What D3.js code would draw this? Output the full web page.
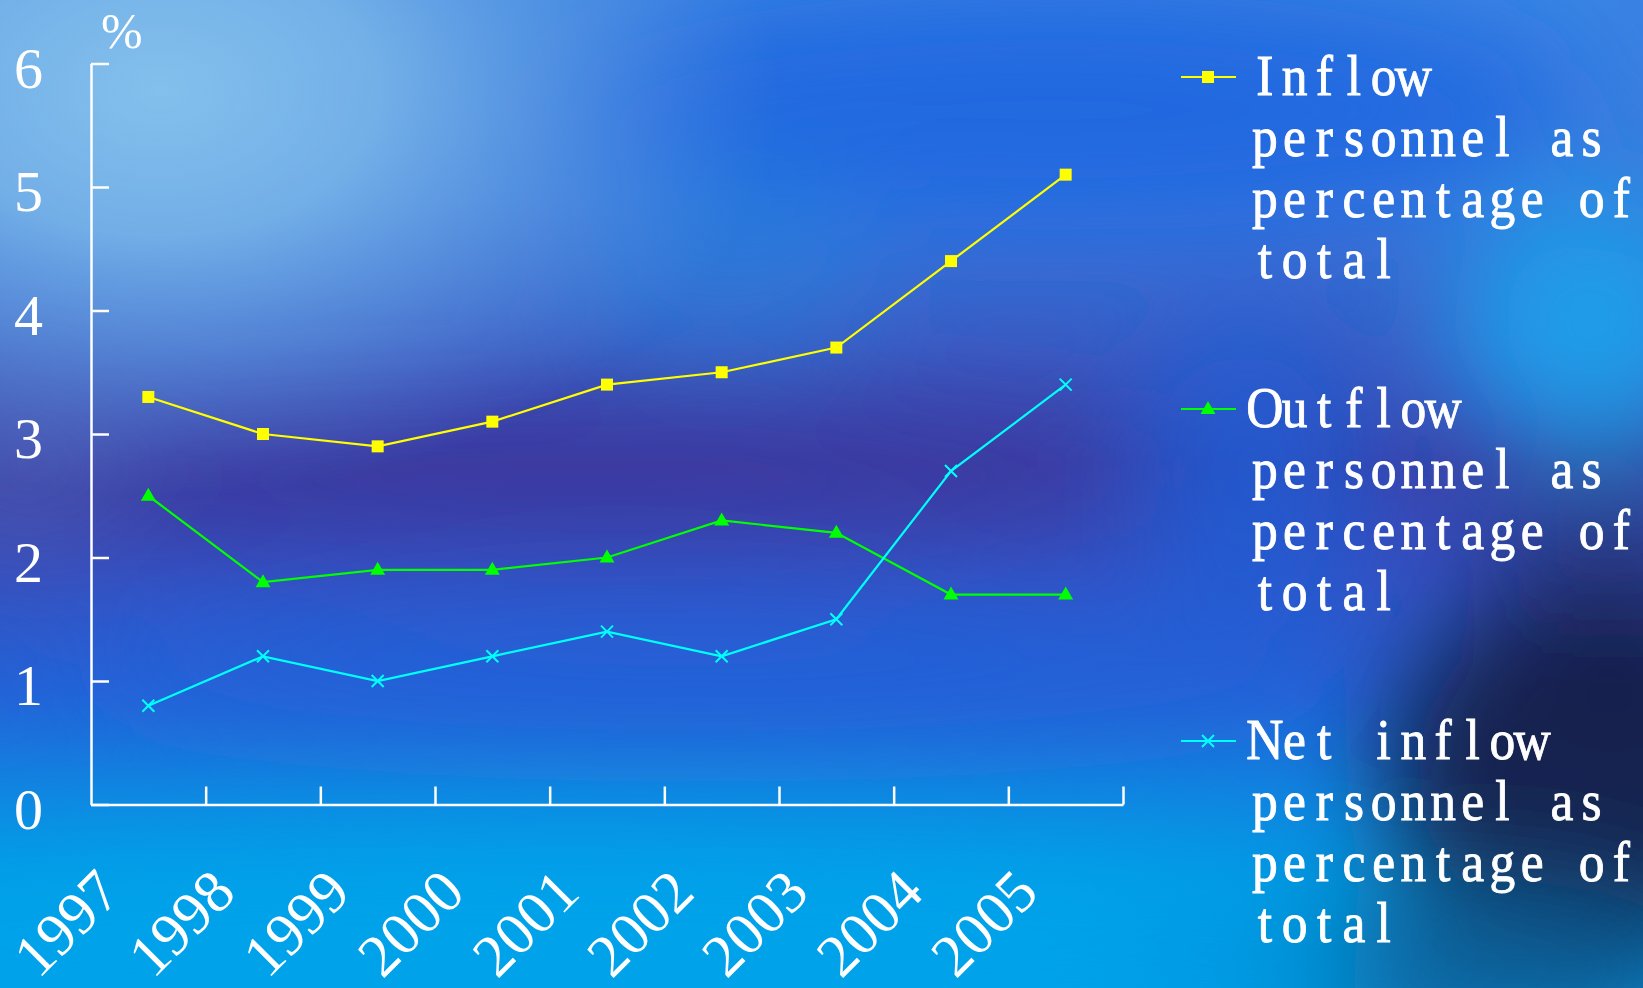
<!DOCTYPE html>
<html>
<head>
<meta charset="utf-8">
<script src="https://cdn.jsdelivr.net/npm/d3@7"></script>
<style>
  html, body { margin: 0; padding: 0; overflow: hidden; background: #2a5fd6; }
  svg { display: block; }
</style>
</head>
<body>
<svg id="chart"></svg>
<script>
var width = 1643;
var height = 988;

// data
var years = ["1997", "1998", "1999", "2000", "2001", "2002", "2003", "2004", "2005"];
var inflow = [3.3, 3.0, 2.9, 3.1, 3.4, 3.5, 3.7, 4.4, 5.1];
var outflow = [2.5, 1.8, 1.9, 1.9, 2.0, 2.3, 2.2, 1.7, 1.7];
var netInflow = [0.8, 1.2, 1.0, 1.2, 1.4, 1.2, 1.5, 2.7, 3.4];
var yTicks = [0, 1, 2, 3, 4, 5, 6];
var legendInflow = ["Inflow", "personnel as", "percentage of", "total"];
var legendOutflow = ["Outflow", "personnel as", "percentage of", "total"];
var legendNet = ["Net inflow", "personnel as", "percentage of", "total"];

var series = [
    { values: inflow, color: "#ffff00", shape: "square", legend: legendInflow },
    { values: outflow, color: "#00ff00", shape: "triangle", legend: legendOutflow },
    { values: netInflow, color: "#00ffff", shape: "cross", legend: legendNet }
];

var plot = { left: 91, right: 1123, top: 63.5, bottom: 804.5 };

var svg = d3.select("#chart")
    .attr("width", width)
    .attr("height", height);

// ---- background ----
var defs = svg.append("defs");
var bg = defs.append("linearGradient")
    .attr("id", "bgGrad")
    .attr("x1", 0).attr("y1", 0).attr("x2", 0).attr("y2", 1);
[
    [0, "#3a84e4"], [0.2, "#3c78dc"], [0.35, "#3a5cc4"], [0.47, "#3a40a8"],
    [0.58, "#3350c2"], [0.7, "#2464d8"], [0.8, "#1282e0"], [0.9, "#049ae6"], [1, "#03a0e9"]
].forEach(function(s) {
    bg.append("stop").attr("offset", s[0]).attr("stop-color", s[1]);
});

var light = defs.append("radialGradient")
    .attr("id", "lightGrad")
    .attr("gradientUnits", "userSpaceOnUse")
    .attr("cx", 160).attr("cy", 90).attr("r", 480)
    .attr("gradientTransform", "translate(160,90) scale(1.3,0.85) translate(-160,-90)");
[
    [0, "#84c0ec", 1], [0.35, "#78b4e8", 0.92], [0.65, "#66a0e2", 0.55], [1, "#5a90e0", 0]
].forEach(function(s) {
    light.append("stop").attr("offset", s[0]).attr("stop-color", s[1]).attr("stop-opacity", s[2]);
});

defs.append("filter")
    .attr("id", "soft")
    .attr("x", "-50%").attr("y", "-50%").attr("width", "200%").attr("height", "200%")
    .append("feGaussianBlur")
    .attr("stdDeviation", 55);

svg.append("rect")
    .attr("width", width)
    .attr("height", height)
    .attr("fill", "url(#bgGrad)");

var blobs = [
    { cx: 1050, cy: 110, rx: 520, ry: 120, c: "#1f66e0", o: 0.9 },
    { cx: 720, cy: 260, rx: 160, ry: 90, c: "#2a80da", o: 0.6 },
    { cx: 560, cy: 475, rx: 620, ry: 75, c: "#3a369e", o: 0.7 },
    { cx: 20, cy: 460, rx: 110, ry: 100, c: "#4a58b0", o: 0.8 },
    { cx: 700, cy: 660, rx: 620, ry: 70, c: "#2360d8", o: 0.7 },
    { cx: 1250, cy: 470, rx: 120, ry: 160, c: "#2060d8", o: 0.7 },
    { cx: 1590, cy: 320, rx: 140, ry: 130, c: "#1ba0ea", o: 0.95 },
    { cx: 1610, cy: 560, rx: 120, ry: 110, c: "#2a3c8a", o: 0.8 },
    { cx: 1610, cy: 770, rx: 230, ry: 190, c: "#131c46", o: 0.95 },
    { cx: 560, cy: 940, rx: 900, ry: 110, c: "#03a3ea", o: 0.9 },
    { cx: 1480, cy: 970, rx: 230, ry: 90, c: "#0d5a90", o: 0.85 },
    { cx: 1240, cy: 960, rx: 120, ry: 90, c: "#039ae4", o: 0.8 }
];
svg.append("g")
    .attr("filter", "url(#soft)")
    .selectAll("ellipse")
    .data(blobs)
    .enter().append("ellipse")
    .attr("cx", function(d) { return d.cx; })
    .attr("cy", function(d) { return d.cy; })
    .attr("rx", function(d) { return d.rx; })
    .attr("ry", function(d) { return d.ry; })
    .attr("fill", function(d) { return d.c; })
    .attr("opacity", function(d) { return d.o; });

svg.append("rect")
    .attr("width", width)
    .attr("height", height)
    .attr("fill", "url(#lightGrad)");

// ---- scales ----
var x_band = d3.scaleBand()
    .domain(years)
    .range([plot.left, plot.right]);
var x_edge = d3.scaleLinear()
    .domain([0, years.length])
    .range([plot.left, plot.right]);
var y_scale = d3.scaleLinear()
    .domain([0, 6])
    .range([plot.bottom, plot.top]);

function cx(i) {
    return x_band(years[i]) + x_band.bandwidth() / 2;
}

// ---- axes ----
var y_axis = d3.axisLeft(y_scale)
    .tickValues(yTicks)
    .tickFormat(d3.format("d"))
    .tickSizeInner(-18)
    .tickSizeOuter(0)
    .tickPadding(48);

var gy = svg.append("g")
    .attr("class", "y axis")
    .attr("transform", "translate(" + plot.left + ",0)")
    .call(y_axis);
gy.select(".domain").attr("stroke", "#fff").attr("stroke-width", 2.5);
gy.selectAll(".tick line").attr("stroke", "#fff").attr("stroke-width", 2.5);
gy.selectAll(".tick text")
    .attr("fill", "#fff")
    .attr("font-family", "'Liberation Serif', 'DejaVu Serif', serif")
    .attr("font-size", 58)
    .attr("dy", "0.41em");

var x_axis = d3.axisBottom(x_edge)
    .tickValues(d3.range(1, years.length + 1))
    .tickFormat("")
    .tickSizeInner(-18)
    .tickSizeOuter(0);

var gx = svg.append("g")
    .attr("class", "x axis")
    .attr("transform", "translate(0," + plot.bottom + ")")
    .call(x_axis);
gx.select(".domain").attr("stroke", "#fff").attr("stroke-width", 2.5);
gx.selectAll(".tick line").attr("stroke", "#fff").attr("stroke-width", 2.5);

svg.append("g")
    .selectAll("text")
    .data(years)
    .enter().append("text")
    .attr("transform", function(d, i) {
        return "translate(" + (cx(i) - 25) + "," + (plot.bottom + 90.5) + ") rotate(-45)";
    })
    .attr("text-anchor", "end")
    .attr("fill", "#fff")
    .attr("font-family", "'Liberation Serif', 'DejaVu Serif', serif")
    .attr("font-size", 60)
    .text(function(d) { return d; });

svg.append("text")
    .attr("x", 101)
    .attr("y", 48)
    .attr("fill", "#fff")
    .attr("font-family", "'Liberation Serif', 'DejaVu Serif', serif")
    .attr("font-size", 50)
    .text("%");

// ---- markers ----
function drawMarker(g, shape, color, x, y) {
    if (shape === "square") {
        g.append("rect")
            .attr("x", x - 6).attr("y", y - 6)
            .attr("width", 12).attr("height", 12)
            .attr("fill", color);
    } else if (shape === "triangle") {
        g.append("path")
            .attr("d", "M" + x + "," + (y - 8) + "L" + (x + 7.5) + "," + (y + 5) + "L" + (x - 7.5) + "," + (y + 5) + "Z")
            .attr("fill", color);
    } else {
        g.append("path")
            .attr("d", "M" + (x - 6) + "," + (y - 6) + "L" + (x + 6) + "," + (y + 6) + "M" + (x - 6) + "," + (y + 6) + "L" + (x + 6) + "," + (y - 6))
            .attr("stroke", color)
            .attr("stroke-width", 2)
            .attr("fill", "none");
    }
}

var line = d3.line()
    .x(function(d, i) { return cx(i); })
    .y(function(d) { return y_scale(d); });

series.forEach(function(s) {
    var g = svg.append("g");
    g.append("path")
        .datum(s.values)
        .attr("d", line)
        .attr("fill", "none")
        .attr("stroke", s.color)
        .attr("stroke-width", 2.2);
    s.values.forEach(function(v, i) {
        drawMarker(g, s.shape, s.color, cx(i), y_scale(v));
    });
});

// ---- legend ----
// fixed-pitch serif look: every character gets its own cell
var cell = 29.7;
var squeeze = 0.92;
var legend = svg.append("g").attr("class", "legend");
var legendTop = [77, 409, 741];
series.forEach(function(s, k) {
    var ly = legendTop[k];
    var g = legend.append("g");
    g.append("line")
        .attr("x1", 1181).attr("x2", 1236)
        .attr("y1", ly).attr("y2", ly)
        .attr("stroke", s.color)
        .attr("stroke-width", 2);
    drawMarker(g, s.shape, s.color, 1208, ly);
    g.selectAll("text")
        .data(s.legend)
        .enter().append("text")
        .attr("transform", function(d, i) {
            return "translate(1250," + (ly + 18 + i * 61) + ") scale(" + squeeze + ",1)";
        })
        .attr("x", function(d) {
            return d.split("").map(function(c, j) {
                return ((j + 0.5) * cell / squeeze).toFixed(2);
            }).join(" ");
        })
        .attr("text-anchor", "middle")
        .attr("fill", "#fff")
        .attr("stroke", "#fff")
        .attr("stroke-width", 0.9)
        .attr("font-family", "'Liberation Serif', 'DejaVu Serif', serif")
        .attr("font-size", 56)
        .attr("xml:space", "preserve")
        .text(function(d) { return d; });
});
</script>
</body>
</html>
